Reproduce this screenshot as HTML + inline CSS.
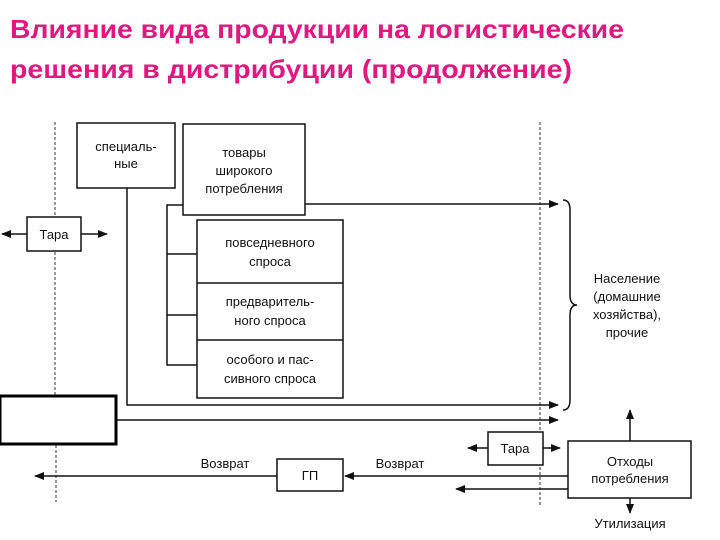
<!DOCTYPE html>
<html><head><meta charset="utf-8"><style>
html,body{margin:0;padding:0;background:#fff;}
svg{display:block;}
text{font-family:"Liberation Sans",Arial,sans-serif;fill:#111;}
</style></head><body>
<svg width="720" height="540" viewBox="0 0 720 540" xmlns="http://www.w3.org/2000/svg">
<defs>
<marker id="a" markerWidth="10" markerHeight="8" refX="9" refY="4" orient="auto" markerUnits="userSpaceOnUse">
<path d="M0,0 L10,4 L0,8 Z" fill="#111"/></marker>
</defs>
<g font-weight="bold" fill="#e0187f">
<text x="10" y="38" font-size="26" textLength="614" lengthAdjust="spacingAndGlyphs" style="fill:#e0187f;font-weight:bold">Влияние вида продукции на логистические</text>
<text x="10" y="78" font-size="26" textLength="562" lengthAdjust="spacingAndGlyphs" style="fill:#e0187f;font-weight:bold">решения в дистрибуции (продолжение)</text>
</g>
<g stroke="#333" stroke-width="1" stroke-dasharray="3,2" fill="none">
<line x1="55" y1="122" x2="55" y2="395"/>
<line x1="56" y1="445" x2="56" y2="502"/>
<line x1="540" y1="122" x2="540" y2="505"/>
</g>
<g stroke="#111" stroke-width="1.5" fill="none">
<rect x="77" y="123" width="98" height="65" fill="#fff"/>
<rect x="183" y="124" width="122" height="91" fill="#fff"/>
<rect x="197" y="220" width="146" height="178" fill="#fff"/>
<line x1="197" y1="283" x2="343" y2="283"/>
<line x1="197" y1="340" x2="343" y2="340"/>
<polyline points="183,205 167,205 167,365 197,365"/>
<line x1="167" y1="254" x2="197" y2="254"/>
<line x1="167" y1="315" x2="197" y2="315"/>
<polyline points="127,188 127,405 558,405" marker-end="url(#a)"/>
<line x1="305" y1="204" x2="558" y2="204" marker-end="url(#a)"/>
<line x1="117" y1="420" x2="558" y2="420" marker-end="url(#a)"/>
<rect x="27" y="217" width="54" height="34" fill="#fff"/>
<line x1="27" y1="234" x2="2" y2="234" marker-end="url(#a)"/>
<line x1="81" y1="234" x2="107" y2="234" marker-end="url(#a)"/>
<path d="M563,200 Q570,200 570,210 L570,295 Q570,305 577,305 Q570,305 570,315 L570,400 Q570,410 563,410"/>
<rect x="488" y="432" width="55" height="33" fill="#fff"/>
<line x1="488" y1="448" x2="468" y2="448" marker-end="url(#a)"/>
<line x1="543" y1="448" x2="560" y2="448" marker-end="url(#a)"/>
<rect x="568" y="441" width="123" height="57" fill="#fff"/>
<line x1="630" y1="441" x2="630" y2="410" marker-end="url(#a)"/>
<line x1="630" y1="498" x2="630" y2="513" marker-end="url(#a)"/>
<line x1="568" y1="476" x2="345" y2="476" marker-end="url(#a)"/>
<line x1="568" y1="489" x2="456" y2="489" marker-end="url(#a)"/>
<rect x="277" y="459" width="66" height="32" fill="#fff"/>
<line x1="277" y1="476" x2="35" y2="476" marker-end="url(#a)"/>
</g>
<rect x="0" y="396" width="116" height="48" fill="#fff" stroke="#000" stroke-width="3"/>
<g font-size="13" text-anchor="middle">
<text x="126" y="151">специаль-</text>
<text x="126" y="168">ные</text>
<text x="244" y="157">товары</text>
<text x="244" y="175">широкого</text>
<text x="244" y="193">потребления</text>
<text x="270" y="247">повседневного</text>
<text x="270" y="266">спроса</text>
<text x="270" y="306">предваритель-</text>
<text x="270" y="325">ного спроса</text>
<text x="270" y="364">особого и пас-</text>
<text x="270" y="383">сивного спроса</text>
<text x="54" y="239">Тара</text>
<text x="515" y="453">Тара</text>
<text x="627" y="283">Население</text>
<text x="627" y="301">(домашние</text>
<text x="627" y="319">хозяйства),</text>
<text x="627" y="337">прочие</text>
<text x="630" y="466">Отходы</text>
<text x="630" y="483">потребления</text>
<text x="630" y="528">Утилизация</text>
<text x="310" y="480">ГП</text>
<text x="225" y="468">Возврат</text>
<text x="400" y="468">Возврат</text>
</g>
</svg>
</body></html>
